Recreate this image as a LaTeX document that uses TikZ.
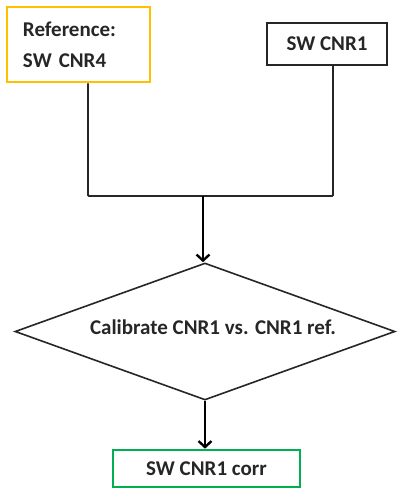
\documentclass[tikz,border=0pt]{standalone}
\usepackage{fontspec}
\setmainfont{Carlito}
\usetikzlibrary{shapes.geometric,arrows.meta}
\definecolor{refgold}{HTML}{FFC000}
\definecolor{corrgreen}{HTML}{00B050}
\begin{document}
\begin{tikzpicture}[x=1pt,y=-1pt,
  every node/.style={font=\bfseries\fontsize{21}{31}\selectfont, text=black!85},
  boxstyle/.style={draw, rectangle, inner sep=0pt},
  link/.style={draw=black!85, line width=1.8pt, rounded corners=1pt},
  arr/.style={draw=black, line width=2.6pt, -{Straight Barb[length=6pt,width=13pt,line width=2.4pt]}}]
\useasboundingbox (0,0) rectangle (398,490);
\node[boxstyle, draw=refgold, line width=2.6pt, minimum width=143pt, minimum height=75pt,
      text width=111pt, align=left] (ref) at (78.5,44.5) {Reference:\\SW CNR4};
\node[boxstyle, draw=black!85, line width=1.8pt, minimum width=120pt, minimum height=42pt] (cnr1) at (327,44) {SW CNR1};
\coordinate (j) at (203,196);
\draw[link] ([xshift=9.5pt]ref.south) |- (j) -| ([xshift=6pt]cnr1.south);
\node[draw=black!85, line width=1.6pt, shape=diamond, aspect=2.77, inner sep=0pt,
      minimum width=380pt, minimum height=137pt] (dia) at (205,331.5) {};
\node (diatext) at (213,327) {Calibrate CNR1 vs. CNR1 ref.};
\node[boxstyle, draw=corrgreen, line width=2.6pt, minimum width=187pt, minimum height=37pt] (corr) at (206.5,468.5) {SW CNR1 corr};
\draw[arr] (j) -- (j |- dia.north);
\draw[arr] (dia.south) -- (dia.south |- corr.north);
\end{tikzpicture}
\end{document}
